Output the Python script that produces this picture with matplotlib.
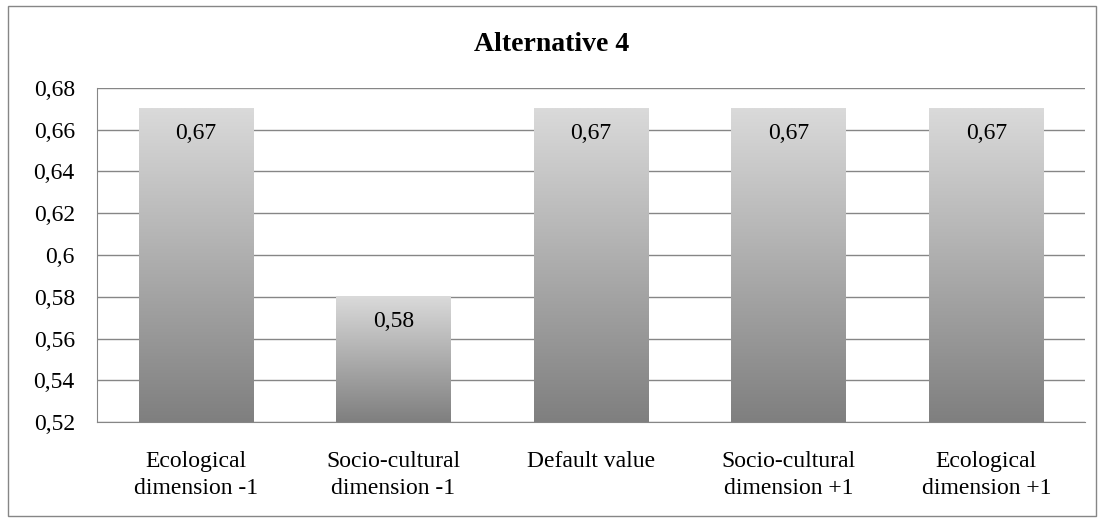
import matplotlib
matplotlib.use('Agg')
import matplotlib.pyplot as plt
import numpy as np
from matplotlib.colors import LinearSegmentedColormap
from matplotlib.patches import Rectangle

plt.rcParams['font.family'] = ['Liberation Serif', 'DejaVu Serif']

# data
categories = ["Ecological\ndimension -1", "Socio-cultural\ndimension -1", "Default value",
              "Socio-cultural\ndimension +1", "Ecological\ndimension +1"]
values = [0.67, 0.58, 0.67, 0.67, 0.67]
yticks = [0.52, 0.54, 0.56, 0.58, 0.60, 0.62, 0.64, 0.66, 0.68]
ytick_labels = ["0,52", "0,54", "0,56", "0,58", "0,6", "0,62", "0,64", "0,66", "0,68"]
ymin, ymax = 0.52, 0.68

fig = plt.figure(figsize=(11.04, 5.20), dpi=100)
ax = fig.add_axes([0.0879, 0.188, 0.895, 0.643])

# outer chart border
fig.patches.append(Rectangle((0.007, 0.008), 0.986, 0.98, transform=fig.transFigure,
                             fill=False, edgecolor='#868686', linewidth=1.0))

grad = LinearSegmentedColormap.from_list('bar', ['#7f7f7f', '#dadada'])
g = np.linspace(0, 1, 256).reshape(-1, 1)
width = 0.58
for i, v in enumerate(values):
    x0, x1 = i - width / 2, i + width / 2
    ax.imshow(g, cmap=grad, origin='lower', aspect='auto',
              extent=[x0, x1, ymin, v], zorder=3)
    ax.annotate(f"{v:.2f}".replace('.', ','), (i, v), xytext=(0, -18),
                textcoords='offset points', ha='center', va='center',
                fontsize=17, zorder=4)

ax.set_xlim(-0.5, len(values) - 0.5)
ax.set_ylim(ymin, ymax)
ax.set_yticks(yticks)
ax.set_yticklabels(ytick_labels)
ax.set_xticks(range(len(categories)))
ax.set_xticklabels(categories, linespacing=1.35)
ax.tick_params(axis='both', length=0, labelsize=17)
ax.tick_params(axis='x', pad=21)
ax.tick_params(axis='y', pad=16)
ax.grid(axis='y', color='#868686', linewidth=1.0, zorder=0)
ax.set_axisbelow(True)
for s in ['top', 'right']:
    ax.spines[s].set_visible(False)
for s in ['left', 'bottom']:
    ax.spines[s].set_color('#868686')

fig.text(0.5, 0.915, "Alternative 4", ha='center', va='center',
         fontsize=20, fontweight='bold')

fig.savefig('out.png', dpi=100)
